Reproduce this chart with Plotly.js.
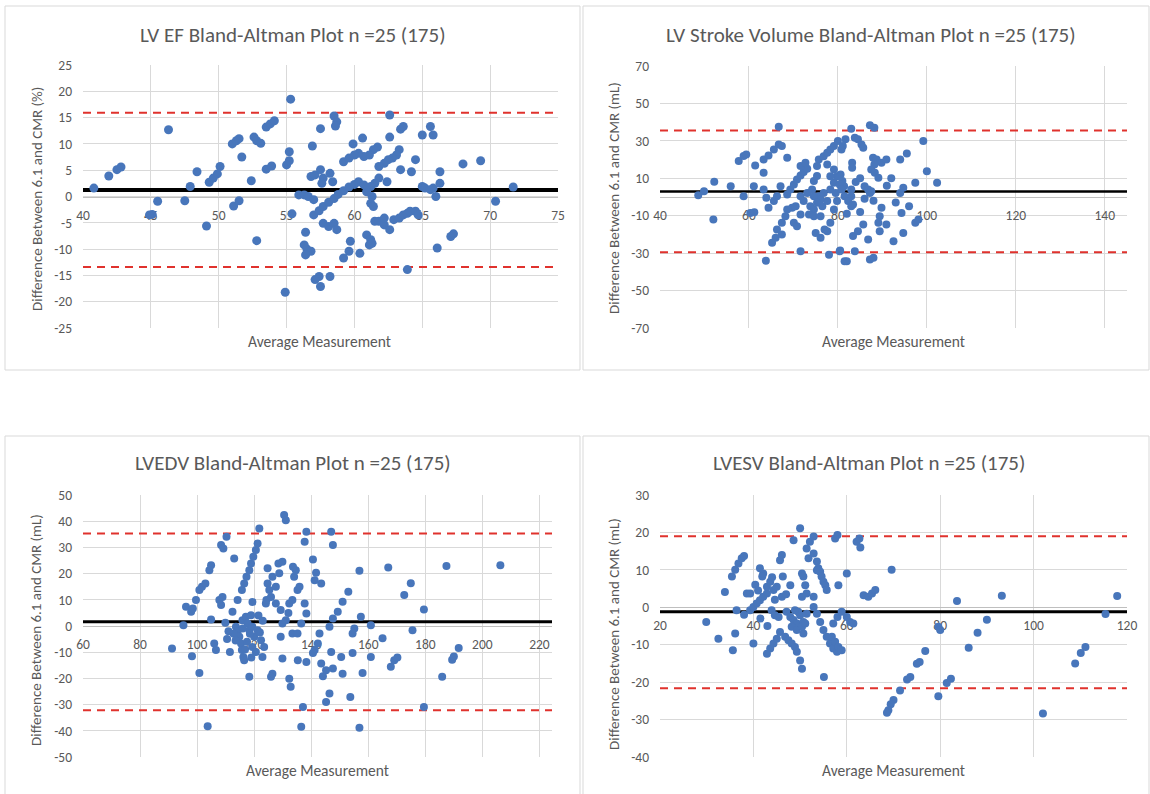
<!DOCTYPE html>
<html><head><meta charset="utf-8">
<script src="https://cdn.plot.ly/plotly-3.0.1.min.js"></script>
<style>html,body{margin:0;padding:0;background:#fff}</style>
</head><body><div id="chart" style="width:1150px;height:794px"></div>
<script>
// ---------- DATA ----------
const titles = ["LV EF Bland-Altman Plot n =25 (175)", "LV Stroke Volume Bland-Altman Plot n =25 (175)", "LVEDV Bland-Altman Plot n =25 (175)", "LVESV Bland-Altman Plot n =25 (175)"];
const yTitles = ["Difference Between 6.1 and CMR (%)", "Difference Between 6.1 and CMR (mL)", "Difference Between 6.1 and CMR (mL)", "Difference Between 6.1 and CMR (mL)"];
const xTitle = "Average Measurement";

const meanDiff = [1.25, 3.0, 1.6, -1.2];
const upperLoA = [15.9, 35.5, 35.3, 19.0];
const lowerLoA = [-13.4, -29.5, -32.2, -21.6];

const efXTicks = [40,45,50,55,60,65,70,75];
const efYTicks = [-25,-20,-15,-10,-5,0,5,10,15,20,25];
const svXTicks = [40,60,80,100,120,140];
const svYTicks = [-70,-50,-30,-10,10,30,50,70];
const edvXTicks = [60,80,100,120,140,160,180,200,220];
const edvYTicks = [-50,-40,-30,-20,-10,0,10,20,30,40,50];
const esvXTicks = [20,40,60,80,100,120];
const esvYTicks = [-40,-30,-20,-10,0,10,20,30];

const efAvg = [40.8,41.9,42.5,42.8,46.3,45.5,45.1,44.9,47.5,47.9,48.4,49.1,49.3,49.6,49.9,50.1,51.1,51.5,51.0,51.3,51.5,51.7,52.4,52.6,52.8,53.1,52.8,53.5,53.9,53.5,53.8,54.1,55.0,55.2,55.2,55.3,54.9,55.4,55.9,
57.5,58.5,58.7,58.6,62.6,63.4,63.6,62.6,65.6,65.8,65.0,60.6,59.9,56.9,61.7,61.4,61.1,60.7,60.3,60.0,59.2,59.6,63.3,63.1,62.8,62.5,62.2,61.8,63.4,64.5,64.2,66.3,68.0,69.3,56.8,57.1,57.5,57.7,57.6,58.2,58.4,61.8,62.4,61.5,61.2,60.9,66.3,65.0,65.2,65.8,65.6,71.7,57.0,57.4,57.7,58.1,58.5,58.8,59.2,59.6,60.0,60.3,60.7,61.3,61.2,61.4,56.3,56.6,57.0,66.0,70.4,57.7,58.1,58.5,58.7,61.5,61.8,62.2,62.6,62.2,62.9,63.3,63.6,63.9,64.1,64.5,64.7,60.9,61.2,61.1,61.3,59.7,59.6,59.2,60.4,66.1,67.1,67.3,63.9,56.4,56.3,56.5,56.8,56.4,57.4,57.1,57.5,58.2];
const efDiff = [1.6,3.9,5.1,5.6,12.7,-0.9,-3.4,-3.5,-0.8,1.9,4.7,-5.6,2.7,3.5,4.3,5.7,-1.8,-0.8,10.0,10.6,11.0,7.5,3.0,11.3,10.6,10.1,-8.4,5.2,5.8,13.2,13.8,14.4,6.0,6.8,8.5,18.5,-18.2,-3.3,0.3,
12.9,15.3,14.2,13.4,15.5,12.8,13.3,11.3,13.3,11.7,11.7,11.1,10.0,9.6,9.4,8.9,7.9,7.6,8.2,7.9,6.6,7.3,8.9,7.9,7.3,7.0,6.3,5.7,5.1,7.0,4.7,4.7,6.2,6.8,3.8,4.1,5.1,3.5,2.5,4.4,2.8,3.5,2.8,2.5,1.9,0.9,2.5,1.9,1.6,1.6,1.3,1.8,-3.5,-2.7,-1.9,-1.1,-0.4,0.4,1.1,1.8,2.3,2.8,2.2,0.0,-1.3,-1.9,0.3,0.0,-0.6,0.0,-0.9,-5.1,-5.7,-5.1,-6.3,-4.7,-4.7,-5.4,-6.3,-4.1,-4.4,-4.1,-3.5,-3.2,-2.8,-2.8,-3.5,-7.3,-8.2,-9.2,-8.9,-8.5,-10.4,-11.7,-10.8,-9.8,-7.6,-7.1,-13.9,-6.8,-9.2,-10.0,-10.4,-11.1,-15.2,-15.8,-17.1,-15.2];

const svAvg = [48.6,49.9,52.2,52.0,55.9,58.8,57.7,58.8,59.4,61.1,60.3,61.2,61.4,63.3,63.9,63.3,64.4,63.8,63.3,64.4,65.6,66.7,67.4,66.7,68.6,65.2,66.0,66.3,67.4,67.4,65.6,66.3,67.1,68.2,68.6,69.3,70.1,70.8,71.6,72.3,73.1,70.1,70.8,71.6,69.7,71.6,73.1,74.2,74.6,75.3,73.8,74.6,73.5,75.0,76.1,77.6,
75.7,76.1,76.5,76.8,77.6,78.3,79.1,
75.7,76.8,77.6,78.3,79.1,80.0,80.8,81.7,
78.0,80.5,82.0,
80.6,81.0,81.4,
71.6,72.3,74.6,75.3,74.6,76.1,77.0,78.3,79.1,71.6,72.7,75.3,77.6,79.1,79.8,78.3,68.6,70.5,79.8,79.5,
81.1,83.0,83.8,84.5,85.3,85.7,87.2,88.2,83.2,83.2,87.9,88.7,89.8,90.9,88.2,87.5,88.3,89.1,94.0,95.5,99.2,100.0,97.4,102.3,80.4,80.4,80.8,83.0,83.0,86.0,86.8,87.2,87.5,81.5,82.3,83.4,83.0,89.8,89.4,89.1,94.0,94.7,94.3,83.4,84.5,85.7,86.8,89.4,90.9,92.5,94.7,97.4,98.1,80.4,81.5,83.8,87.2,88.0,
84.0,85.0,86.0,88.0,91.0,92.0,93.0,96.0,82.0,85.0];
const svDiff = [1.0,3.1,8.1,-12.0,5.8,0.4,19.2,21.9,22.7,5.8,-8.5,-8.1,16.8,4.0,-0.4,12.9,-5.8,-34.0,20.1,22.2,25.4,28.1,27.2,37.5,21.0,-24.5,-21.8,-17.4,-20.1,-13.8,-2.2,0.4,5.8,-10.3,1.3,4.0,6.7,9.4,11.5,13.3,15.1,-13.8,-15.6,-9.4,-5.8,-29.0,2.2,4.0,8.5,11.2,-4.9,-6.7,-9.4,-19.2,-21.8,-18.3,
0.4,-1.3,-4.9,2.2,-2.2,4.0,7.6,
20.1,21.8,23.6,25.4,27.2,29.9,25.4,30.8,
-30.8,-28.6,-34.3,
12.0,8.5,5.8,
0.4,-2.2,0.4,-3.1,-10.3,-10.3,-17.4,-13.8,-6.7,16.5,18.3,16.5,17.4,14.7,11.1,11.1,-6.7,-4.9,-2.2,2.2,
27.2,36.5,31.7,30.8,28.1,26.3,38.3,37.0,18.3,15.6,21.0,20.1,18.3,20.1,17.4,14.7,12.9,10.3,20.1,23.3,29.9,13.8,7.6,7.6,11.1,6.7,4.0,4.0,0.4,5.8,4.0,2.2,3.1,0.4,-2.2,-4.0,-4.9,-5.8,-10.3,-13.8,2.2,4.9,-8.5,-20.9,-18.3,-14.7,-22.7,-18.3,-14.7,-23.6,-19.2,-13.8,-12.0,-29.0,-34.3,-29.0,-33.4,-32.5,
8.0,10.0,-1.0,-2.0,6.0,10.0,-3.0,-5.0,-9.0,-8.0];

const edvAvg = [91.2,95.2,96.1,97.9,98.5,98.2,99.6,100.8,101.7,102.9,100.8,103.7,104.3,104.9,104.9,106.0,106.6,108.4,109.2,110.3,107.8,108.9,108.4,109.9,111.5,112.4,114.2,113.0,
113.6,114.2,114.8,115.4,115.7,116.2,116.5,
115.9,117.1,117.7,118.3,119.4,118.9,120.0,119.4,120.6,
115.7,116.5,117.3,118.3,118.9,119.7,120.6,121.2,
119.4,118.3,121.8,
121.2,122.4,123.5,122.9,126.4,125.9,
124.7,124.7,125.3,126.4,127.6,128.8,128.5,129.9,
124.1,124.3,125.9,
127.6,129.3,129.9,131.1,132.0,133.4,129.3,129.9,132.3,132.8,135.2,
130.5,131.1,
132.3,133.4,134.0,134.6,135.2,
138.3,137.7,147.0,147.6,133.6,135.9,137.7,138.3,136.5,140.6,141.7,143.5,141.2,156.9,167.0,187.4,206.3,174.9,172.6,179.5,175.5,153.0,151.0,149.3,147.6,146.4,155.1,157.4,154.5,160.9,165.0,
142.9,142.3,141.2,140.6,147.0,150.5,154.5,160.9,158.0,
135.3,138.3,143.5,145.2,147.6,144.1,146.4,145.2,151.0,153.7,
167.9,169.1,170.2,
185.9,189.4,190.0,191.7,179.5,137.1,136.5,156.9,
112.8,113.5,116.0,117.5,118.5,116.8,119.0,121.5,122.0,123.0,110.5,111.0];
const edvDiff = [-8.6,0.3,7.3,5.4,6.7,-11.5,9.9,13.7,15.0,16.2,-17.9,-38.3,21.3,23.2,2.5,-6.7,-9.2,30.9,29.6,34.1,9.9,11.1,8.0,1.2,-9.9,5.4,9.9,25.8,
-0.3,-2.2,-4.1,-6.7,-9.2,-11.8,-13.1,
2.2,3.5,1.0,-1.6,-0.3,4.1,-4.1,-8.0,-9.9,
13.7,16.2,18.8,21.3,23.9,26.4,29.0,31.5,
9.2,-19.4,37.2,
-1.6,-5.4,-8.0,-11.8,-18.2,-19.4,
22.0,16.2,13.7,18.8,15.0,20.1,23.9,24.5,
8.6,9.9,11.1,
8.6,6.1,1.0,2.2,5.0,-2.9,-4.1,-12.4,-20.1,-23.2,-2.9,
42.4,40.4,
8.6,9.9,18.8,21.3,13.7,
36.0,32.2,36.0,30.9,22.6,15.0,8.6,4.8,1.0,25.4,20.3,16.2,17.5,21.1,22.3,22.9,23.2,16.3,11.8,6.3,-1.6,13.1,9.3,5.4,2.9,-0.3,-1.0,3.5,-2.9,0.3,-4.7,
-2.9,-6.7,-9.2,-10.3,-9.9,-11.8,-10.3,-11.8,-17.9,
-13.1,-13.7,-14.3,-16.9,-16.2,-19.2,-25.8,-29.0,-18.2,-27.1,
-15.6,-13.1,-12.0,
-19.4,-12.9,-11.6,-8.4,-30.9,-30.9,-38.5,-38.8,
-3.0,-5.5,-1.0,-6.0,-3.0,-9.0,-12.0,4.0,-2.5,2.0,-5.0,-2.0];

const esvAvg = [29.9,32.5,33.9,35.6,36.1,35.4,36.1,36.8,37.5,38.0,36.4,38.6,40.0,
39.3,40.0,40.7,41.4,42.1,42.9,
41.4,42.1,41.9,42.9,43.6,44.3,
42.9,43.6,44.3,45.0,45.7,
43.9,44.6,45.4,
45.7,46.1,46.3,47.9,46.1,
46.8,47.5,48.2,48.9,49.3,50.0,
48.6,50.0,50.7,50.4,
47.1,47.9,48.6,49.3,50.0,50.7,48.2,49.3,50.4,51.1,51.4,49.6,48.9,
50.4,50.7,51.1,51.4,50.4,
51.4,52.1,52.9,
51.8,52.9,53.6,53.9,54.3,54.6,53.6,55.0,55.4,55.7,
52.9,53.6,54.3,55.0,55.7,56.4,57.1,57.9,
55.1,52.9,57.5,58.0,58.2,60.0,
57.1,58.0,58.9,60.0,60.7,61.4,
56.8,57.5,58.2,58.9,
62.1,62.7,62.9,63.6,64.6,65.4,66.1,
69.6,83.6,93.2,117.9,115.4,90.0,88.0,86.1,79.6,80.0,76.8,75.6,75.0,73.6,72.9,71.4,70.0,69.4,68.9,68.6,79.6,81.4,82.3,102.0,108.9,110.1,111.1,
39.3,40.4,41.0,44.6,45.0,47.0,44.0,43.0,41.5,38.0];
const esvDiff = [-3.9,-8.4,4.1,-11.5,-7.0,8.2,10.0,11.7,13.1,13.7,-0.8,3.7,-9.7,
-0.8,0.1,1.0,1.9,2.8,3.7,
10.4,9.0,8.2,5.5,6.8,4.6,
-12.4,-11.0,-9.7,-8.4,-6.6,
-0.8,-2.1,-2.6,
12.6,14.0,8.2,5.9,2.8,
-7.9,-8.8,-9.7,-10.6,-11.9,-14.2,
17.9,21.1,-7.0,-16.4,
-1.2,-2.6,-3.4,-4.3,-2.1,-3.9,-5.2,-6.1,-5.2,-4.3,-1.7,-1.2,-0.8,
9.0,8.2,5.9,3.7,2.8,
15.7,17.5,18.9,
13.1,14.4,12.2,10.4,9.5,8.2,9.9,6.8,5.9,4.6,
0.1,-1.7,-3.9,-6.1,-7.9,-9.7,-11.0,-11.9,
-18.6,2.8,18.4,19.3,5.9,9.0,
-4.3,-2.6,-1.2,-2.6,-3.9,-4.3,
-7.9,-9.2,-10.6,-11.5,
17.5,18.4,16.0,3.2,2.8,3.7,4.6,
10.0,1.7,3.1,3.0,-1.8,-3.3,-6.8,-10.8,-5.2,-6.1,-11.7,-14.6,-15.1,-18.6,-19.3,-22.2,-24.8,-25.9,-27.5,-28.2,-23.8,-20.2,-19.1,-28.4,-15.0,-12.2,-10.6,
3.7,6.0,4.5,2.0,5.5,3.5,8.0,-5.0,-3.0,-2.0];

// ---------- LAYOUT (pixel geometry & styles) ----------
const W = 1150, H = 794;
const FONT = "Carlito, Calibri, Lato, 'Open Sans', sans-serif";
const GREY = "#595959";
const panels = [
  {avg: efAvg,  diff: efDiff,  xr: [40,75],    yr: [-25,25], xt: efXTicks,  yt: efYTicks,  px: [83,558],  py: [65,328],  box: [5,6,580,370],    tXY: [293,35],  ytXY: [37,199],  xtXY: [319,341], meanW: 4,   ms: 9},
  {avg: svAvg,  diff: svDiff,  xr: [40,145],   yr: [-70,70], xt: svXTicks,  yt: svYTicks,  px: [660,1127], py: [66,328], box: [583,6,1149,370],  tXY: [871,35],  ytXY: [614,198], xtXY: [893,341], meanW: 2.5, ms: 8},
  {avg: edvAvg, diff: edvDiff, xr: [60,224.4], yr: [-50,50], xt: edvXTicks, yt: edvYTicks, px: [83,552],  py: [495,757], box: [5,436,580,800],  tXY: [293,463], ytXY: [36,630],  xtXY: [317,770], meanW: 3,   ms: 8},
  {avg: esvAvg, diff: esvDiff, xr: [20,120],   yr: [-40,30], xt: esvXTicks, yt: esvYTicks, px: [660,1127], py: [495,757], box: [583,436,1149,800], tXY: [869,463], ytXY: [614,634], xtXY: [893,770], meanW: 3,   ms: 8}
];

const data = [];
const layout = {
  width: W, height: H, margin: {l:0, r:0, t:0, b:0},
  paper_bgcolor: "#fff", plot_bgcolor: "#fff", showlegend: false,
  font: {family: FONT, color: GREY},
  shapes: [], annotations: []
};

panels.forEach((p, i) => {
  const n = i === 0 ? "" : String(i + 1);
  const xa = "x" + n, ya = "y" + n;
  const xd = [p.px[0] / W, p.px[1] / W];
  const yd = [1 - p.py[1] / H, 1 - p.py[0] / H];
  const zeroPos = yd[0] + (0 - p.yr[0]) / (p.yr[1] - p.yr[0]) * (yd[1] - yd[0]);

  layout["xaxis" + n] = {
    domain: xd, range: p.xr, anchor: "free", position: zeroPos,
    tickmode: "array", tickvals: p.xt, ticktext: p.xt.map(String),
    showgrid: true, gridcolor: "#d9d9d9", gridwidth: 1, zeroline: false,
    showline: true, linecolor: "#bfbfbf", linewidth: 1, layer: "below traces",
    ticks: "", ticklabelstandoff: 6,
    tickfont: {family: FONT, size: 13.5, color: GREY}, fixedrange: true
  };
  layout["yaxis" + n] = {
    domain: yd, range: p.yr, anchor: xa,
    tickmode: "array", tickvals: p.yt, ticktext: p.yt.map(String),
    showgrid: true, gridcolor: "#d9d9d9", gridwidth: 1, zeroline: false,
    showline: false, ticks: "", ticklabelstandoff: 10,
    tickfont: {family: FONT, size: 13.5, color: GREY}, fixedrange: true
  };

  // chart-area box
  layout.shapes.push({type: "rect", xref: "paper", yref: "paper",
    x0: p.box[0] / W, x1: p.box[2] / W, y0: 1 - p.box[3] / H, y1: 1 - p.box[1] / H,
    line: {color: "#d9d9d9", width: 1}, fillcolor: "rgba(0,0,0,0)", layer: "below"});

  // limits of agreement and mean bias lines
  const span = p.xr;
  data.push({type: "scatter", mode: "lines", xaxis: xa, yaxis: ya, x: span, y: [upperLoA[i], upperLoA[i]],
    line: {color: "#e0322d", width: 2, dash: "8px,6px"}, hoverinfo: "skip"});
  data.push({type: "scatter", mode: "lines", xaxis: xa, yaxis: ya, x: span, y: [lowerLoA[i], lowerLoA[i]],
    line: {color: "#e0322d", width: 2, dash: "8px,6px"}, hoverinfo: "skip"});
  data.push({type: "scatter", mode: "lines", xaxis: xa, yaxis: ya, x: span, y: [meanDiff[i], meanDiff[i]],
    line: {color: "#000", width: p.meanW}, hoverinfo: "skip"});

  // points
  const m = Math.min(p.avg.length, p.diff.length);
  data.push({type: "scatter", mode: "markers", xaxis: xa, yaxis: ya,
    x: p.avg.slice(0, m), y: p.diff.slice(0, m),
    marker: {color: "#4876bb", size: p.ms, line: {width: 0}}});

  // texts
  layout.annotations.push({xref: "paper", yref: "paper", x: p.tXY[0] / W, y: 1 - p.tXY[1] / H,
    xanchor: "center", yanchor: "middle", showarrow: false, text: titles[i],
    font: {family: FONT, size: 21, color: GREY}});
  layout.annotations.push({xref: "paper", yref: "paper", x: p.ytXY[0] / W, y: 1 - p.ytXY[1] / H,
    xanchor: "center", yanchor: "middle", showarrow: false, text: yTitles[i], textangle: -90,
    font: {family: FONT, size: 15, color: GREY}});
  layout.annotations.push({xref: "paper", yref: "paper", x: p.xtXY[0] / W, y: 1 - p.xtXY[1] / H,
    xanchor: "center", yanchor: "middle", showarrow: false, text: xTitle,
    font: {family: FONT, size: 15.5, color: GREY}});
});

Plotly.newPlot("chart", data, layout, {staticPlot: true, displayModeBar: false});
</script>
</body></html>
